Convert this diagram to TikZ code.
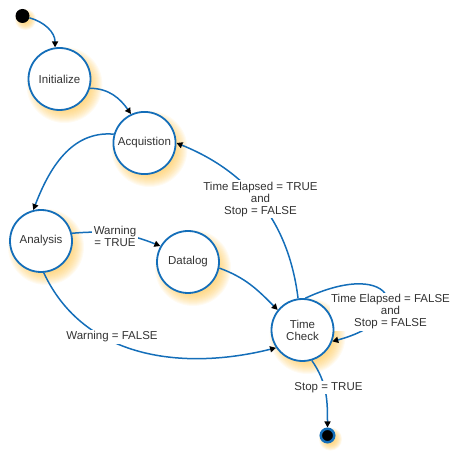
\documentclass[tikz,border=0pt]{standalone}
\usepackage{fontspec}
\setmainfont{Liberation Sans}
\usetikzlibrary{arrows.meta}
\definecolor{stateblue}{RGB}{20,110,185}
\definecolor{glowc}{RGB}{255,195,70}
\pgfdeclarelayer{glow}
\pgfdeclarelayer{edges}
\pgfsetlayers{glow,edges,main}
\begin{document}
\begin{tikzpicture}[x = 1pt, y = 1pt, font = \fontsize{11.5}{12}\selectfont,
        state/.style = {circle, minimum size = 62pt, draw = stateblue, line width = 1.8pt, fill = white, text = black!80, align = center},
        dot/.style = {circle, minimum size = 14pt, fill = black, inner sep = 0pt},
        trans/.style = {draw = stateblue, line width = 1.5pt, -{Triangle[length = 6pt, width = 6pt, color = black]}},
        lbl/.style = {fill = white, inner sep = 1.5pt, align = center, text = black!80}]
    \useasboundingbox (0,0) rectangle (452,466);
    \node [dot] (start) at (22.5,450) {};
    \node [state] (init) at (59.5,387) {Initialize};
    \node [state] (acq) at (144.5,323) {Acquistion};
    \node [state] (ana) at (41,225) {Analysis};
    \node [state] (dat) at (188,204) {Datalog};
    \node [state] (tc) at (302.5,136) {Time\\Check};
    \node [dot, draw = stateblue, line width = 2.5pt, minimum size = 13.5pt] (stop) at (327.5,30.5) {};
    \begin{pgfonlayer}{glow}
        \foreach \n/\s/\w/\d in {init/26/1/5, acq/26/1/5, ana/26/1/5, dat/26/1/5, tc/26/1/5, start/4/0.55/3, stop/5/0.55/3}
            \foreach \r in {0,...,12}
                \fill [glowc, opacity = 0.07] ([shift = {(\d,-1.2*\d)}]\n.center) circle ({\s + \r*\w});
    \end{pgfonlayer}
    \begin{pgfonlayer}{edges}
        \draw [trans] (start.-15) to [out = -15, in = 90] (init.98);
        \draw [trans] (init.-17) to [out = 0, in = 125] (acq.115);
        \draw [trans] (acq.164) to [out = 175, in = 69] (ana.104);
        \draw [trans] (tc.98) to [out = 97, in = -22] (acq.0);
        \draw [trans] (ana.14) to [out = 5, in = 158] (dat.150);
        \draw [trans] (dat.-11) to [out = -20, in = 135] (tc.141);
        \draw [trans] (ana.-85) to [out = -65, in = 194] (tc.214);
        \draw [trans] (tc.85) .. controls +(25:100) and +(15:90) .. (tc.-21);
        \draw [trans] (tc.-73) to [out = -55, in = 90] (stop.north);
        \node [lbl] (et) at (260.5,266.7) {Time Elapsed = TRUE\\and\\Stop = FALSE};
        \node [lbl] (wt) at (115,230) {Warning\\= TRUE};
        \node [lbl] (wf) at (112,129) {Warning = FALSE};
        \node [lbl] (ef) at (390.5,154.3) {Time Elapsed = FALSE\\and\\Stop = FALSE};
        \node [lbl] (st) at (328.5,78.7) {Stop = TRUE};
    \end{pgfonlayer}
\end{tikzpicture}
\end{document}
